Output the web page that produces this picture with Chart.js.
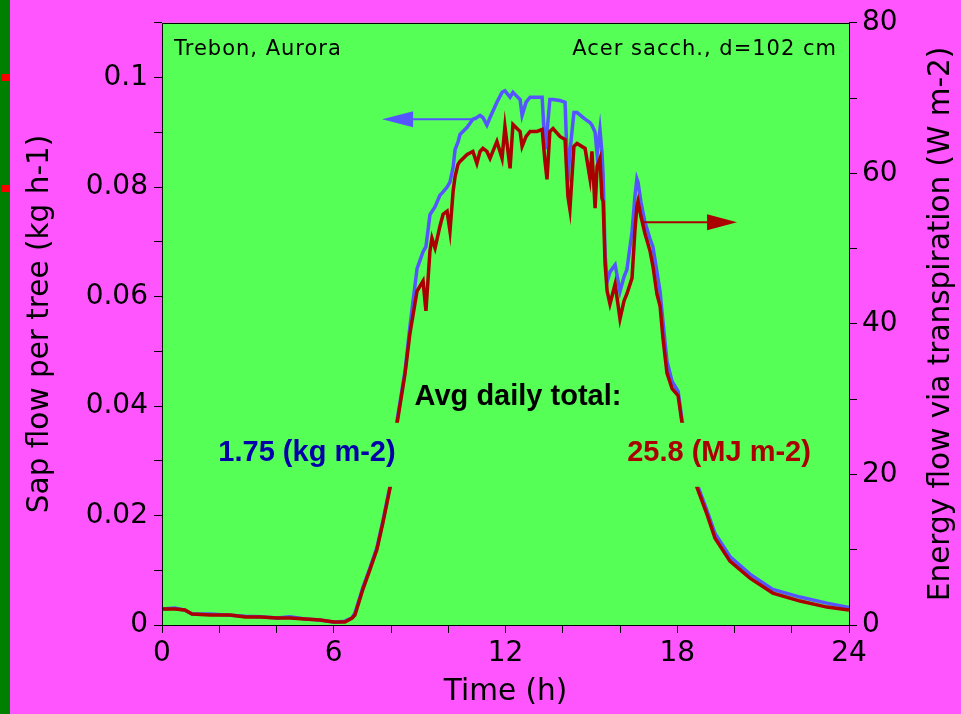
<!DOCTYPE html>
<html>
<head>
<meta charset="utf-8">
<script src="https://cdn.jsdelivr.net/npm/chart.js@4/dist/chart.umd.min.js"></script>
<style>
  html, body { margin: 0; padding: 0; background: #ff55ff; overflow: hidden; }
  canvas { display: block; }
</style>
</head>
<body>
<canvas id="c" width="961" height="714"></canvas>
<script>
// Time of day (h)
const hours = [0,0.45,0.80,1.05,1.68,2.38,2.91,3.44,4.03,4.47,5.00,5.52,6.01,6.39,6.64,6.74,7.02,7.27,7.51,7.72,7.97,8.11,8.21,8.49,8.66,8.91,9.12,9.22,9.36,9.43,9.54,9.71,9.82,9.96,10.06,10.17,10.24,10.34,10.41,10.66,10.86,11.00,11.11,11.21,11.35,11.46,11.70,11.88,11.98,12.16,12.26,12.51,12.58,12.72,12.86,13.10,13.28,13.38,13.45,13.55,13.66,13.90,14.08,14.18,14.25,14.39,14.50,14.78,14.95,15.02,15.13,15.20,15.30,15.37,15.41,15.48,15.55,15.65,15.83,16.00,16.14,16.24,16.42,16.52,16.59,16.63,16.73,16.87,17.05,17.15,17.29,17.40,17.50,17.64,17.82,18.03,18.17,18.45,18.69,19.04,19.32,19.84,20.54,21.34,22.29,23.23,24.00];

// Sap flow per tree (kg h-1)
const sapFlow = [0.0029,0.0031,0.0027,0.0020,0.0020,0.0018,0.0016,0.0015,0.0013,0.0015,0.0011,0.0009,0.0005,0.0007,0.0013,0.0022,0.0069,0.0105,0.0142,0.0191,0.0255,0.0315,0.0373,0.0464,0.0545,0.0651,0.0682,0.0691,0.0749,0.0755,0.0764,0.0785,0.0791,0.0800,0.0809,0.0836,0.0869,0.0882,0.0896,0.0909,0.0924,0.0927,0.0931,0.0927,0.0913,0.0927,0.0955,0.0973,0.0976,0.0964,0.0973,0.0960,0.0931,0.0955,0.0964,0.0964,0.0964,0.0869,0.0900,0.0960,0.0960,0.0958,0.0955,0.0809,0.0864,0.0936,0.0936,0.0924,0.0918,0.0913,0.0900,0.0860,0.0905,0.0864,0.0822,0.0676,0.0627,0.0645,0.0658,0.0609,0.0636,0.0649,0.0718,0.0782,0.0815,0.0809,0.0773,0.0736,0.0705,0.0691,0.0645,0.0609,0.0555,0.0482,0.0445,0.0427,0.0373,0.0309,0.0258,0.0209,0.0167,0.0125,0.0093,0.0065,0.0051,0.0040,0.0032];

// Energy flow via transpiration (W m-2)
const energyFlow = [2.12,2.12,1.99,1.46,1.32,1.32,1.06,1.06,0.93,0.93,0.79,0.66,0.40,0.40,0.93,1.32,4.77,7.42,10.07,13.64,18.28,22.52,26.75,33.38,38.68,44.37,45.70,41.72,49.67,51.39,50.07,52.98,54.57,54.97,52.32,57.62,59.60,61.19,61.59,62.52,62.91,61.32,62.91,63.31,62.91,61.99,64.24,61.99,66.23,60.66,66.49,65.56,63.58,64.90,65.56,65.56,65.83,61.59,59.21,65.56,65.96,64.90,64.50,56.95,55.23,63.58,63.97,63.31,59.34,62.91,55.36,60.93,61.99,56.69,56.29,47.95,44.37,42.65,45.30,40.66,43.05,43.97,46.09,52.32,55.63,56.29,54.30,52.05,49.67,47.68,43.97,42.38,38.15,33.51,31.39,30.46,26.75,22.12,18.28,14.70,11.52,8.48,6.23,4.24,3.18,2.38,1.99];

// Axis ticks and their labels
const timeTicks = [0,2,4,6,8,10,12,14,16,18,20,22,24];
const timeTickLabels = ['0','','','6','','','12','','','18','','','24'];
const sapTicks = [0,0.01,0.02,0.03,0.04,0.05,0.06,0.07,0.08,0.09,0.1,0.11];
const sapTickLabels = ['0','','0.02','','0.04','','0.06','','0.08','','0.1',''];
const energyTicks = [0,10,20,30,40,50,60,70,80];
const energyTickLabels = ['0','','20','','40','','60','','80'];

// Daily totals
const sapTotal = '1.75 (kg m-2)';
const energyTotal = '25.8 (MJ m-2)';

const BG = '#ff55ff', PLOT = '#55ff55', BLUE = '#5555ff', RED = '#aa0000';
const TICK_FONT = { family: 'DejaVu Sans', size: 28 };

function fixedTicks(values) {
  return function (scale) { scale.ticks = values.map(v => ({ value: v })); };
}

const backdrop = {
  id: 'backdrop',
  beforeDraw(chart) {
    const { ctx, chartArea: a, width, height } = chart;
    ctx.save();
    ctx.fillStyle = BG;
    ctx.fillRect(0, 0, width, height);
    ctx.fillStyle = '#008000';
    ctx.fillRect(0, 0, 10, height);
    ctx.fillStyle = '#ff0000';
    ctx.fillRect(2, 74, 8, 7);
    ctx.fillRect(2, 185, 8, 7);
    ctx.fillStyle = PLOT;
    ctx.fillRect(a.left, a.top, a.right - a.left, a.bottom - a.top);
    ctx.restore();
  }
};

function arrow(ctx, x0, x1, y, color, headLen) {
  const dir = Math.sign(x1 - x0);
  const base = x1 - dir * headLen;
  ctx.strokeStyle = color;
  ctx.fillStyle = color;
  ctx.lineWidth = 2;
  ctx.beginPath();
  ctx.moveTo(x0, y);
  ctx.lineTo(base, y);
  ctx.stroke();
  ctx.beginPath();
  ctx.moveTo(x1, y);
  ctx.lineTo(base, y - 8);
  ctx.lineTo(base, y + 8);
  ctx.closePath();
  ctx.fill();
}

const notes = {
  id: 'notes',
  afterDatasetsDraw(chart) {
    const { ctx, chartArea: a, scales } = chart;
    const x = scales.x, ys = scales.ySap, ye = scales.yEnergy;
    ctx.save();

    // boxes behind the daily-total labels
    ctx.fillStyle = PLOT;
    ctx.fillRect(a.left + 43, a.top + 400, 194, 64);
    ctx.fillRect(a.left + 453, a.top + 400, 207, 64);

    // corner captions
    ctx.fillStyle = '#000';
    ctx.font = '21px "DejaVu Sans"';
    ctx.letterSpacing = '1px';
    ctx.textBaseline = 'alphabetic';
    ctx.textAlign = 'left';
    ctx.fillText('Trebon, Aurora', a.left + 12, a.top + 32);
    ctx.textAlign = 'right';
    ctx.fillText('Acer sacch., d=102 cm', a.right - 12, a.top + 32);
    ctx.letterSpacing = '0px';

    // daily totals
    ctx.font = 'bold 29px "Liberation Sans"';
    ctx.textAlign = 'center';
    ctx.fillStyle = '#000';
    ctx.fillText('Avg daily total:', a.left + 356, a.top + 382);
    ctx.fillStyle = '#0000aa';
    ctx.fillText(sapTotal, a.left + 145, a.top + 438);
    ctx.fillStyle = RED;
    ctx.fillText(energyTotal, a.left + 557, a.top + 438);

    // arrows pointing to each curve's axis
    arrow(ctx, x.getPixelForValue(11.0), x.getPixelForValue(7.69), ys.getPixelForValue(0.0924), BLUE, 31);
    arrow(ctx, x.getPixelForValue(16.8), x.getPixelForValue(20.09), ye.getPixelForValue(53.5), RED, 30);

    // plot frame
    ctx.strokeStyle = '#000';
    ctx.lineWidth = 1;
    ctx.strokeRect(Math.round(a.left) + 0.5, Math.round(a.top) + 0.5,
                   Math.round(a.right - a.left), Math.round(a.bottom - a.top));
    ctx.restore();
  },
  afterDraw(chart) {
    const { ctx, chartArea: a } = chart;
    const midY = (a.top + a.bottom) / 2;
    ctx.save();
    ctx.fillStyle = '#000';
    ctx.font = '29.5px "DejaVu Sans"';
    ctx.textAlign = 'center';
    ctx.textBaseline = 'middle';
    ctx.fillText('Time (h)', (a.left + a.right) / 2, 692);
    ctx.translate(40, midY);
    ctx.rotate(-Math.PI / 2);
    ctx.fillText('Sap flow per tree (kg h-1)', 0, 0);
    ctx.restore();
    ctx.save();
    ctx.fillStyle = '#000';
    ctx.font = '29.5px "DejaVu Sans"';
    ctx.textAlign = 'center';
    ctx.textBaseline = 'middle';
    ctx.translate(941, midY);
    ctx.rotate(-Math.PI / 2);
    ctx.fillText('Energy flow via transpiration (W m-2)', 0, 0);
    ctx.restore();
  }
};

const tickGrid = { drawOnChartArea: false, color: '#000', tickColor: '#000', tickLength: 8, lineWidth: 1 };

new Chart(document.getElementById('c'), {
  type: 'line',
  data: {
    datasets: [
      {
        label: 'Energy flow',
        data: hours.map((h, i) => ({ x: h, y: energyFlow[i] })),
        yAxisID: 'yEnergy',
        borderColor: RED,
        borderWidth: 3.5,
        pointRadius: 0,
        tension: 0,
        order: 0
      },
      {
        label: 'Sap flow',
        data: hours.map((h, i) => ({ x: h, y: sapFlow[i] })),
        yAxisID: 'ySap',
        borderColor: BLUE,
        borderWidth: 3.5,
        pointRadius: 0,
        tension: 0,
        order: 1
      }
    ]
  },
  options: {
    responsive: false,
    animation: false,
    events: [],
    layout: { padding: { top: 21, left: 0, right: 0, bottom: 0 } },
    plugins: { legend: { display: false }, tooltip: { enabled: false } },
    scales: {
      x: {
        type: 'linear',
        min: 0, max: 24,
        afterBuildTicks: fixedTicks(timeTicks),
        afterFit(s) { s.height = 89; },
        grid: tickGrid,
        border: { display: false },
        ticks: {
          autoSkip: false, maxRotation: 0, padding: 4,
          color: '#000', font: TICK_FONT,
          callback: (v, i) => timeTickLabels[i]
        }
      },
      ySap: {
        type: 'linear', position: 'left',
        min: 0, max: 0.11,
        afterBuildTicks: fixedTicks(sapTicks),
        afterFit(s) { s.width = 162; },
        grid: tickGrid,
        border: { display: false },
        ticks: {
          autoSkip: false, padding: 6,
          color: '#000', font: TICK_FONT,
          callback: (v, i) => sapTickLabels[i]
        }
      },
      yEnergy: {
        type: 'linear', position: 'right',
        min: 0, max: 80,
        afterBuildTicks: fixedTicks(energyTicks),
        afterFit(s) { s.width = 112; },
        grid: tickGrid,
        border: { display: false },
        ticks: {
          autoSkip: false, padding: 5,
          color: '#000', font: TICK_FONT,
          callback: (v, i) => energyTickLabels[i]
        }
      }
    }
  },
  plugins: [backdrop, notes]
});
</script>
</body>
</html>
